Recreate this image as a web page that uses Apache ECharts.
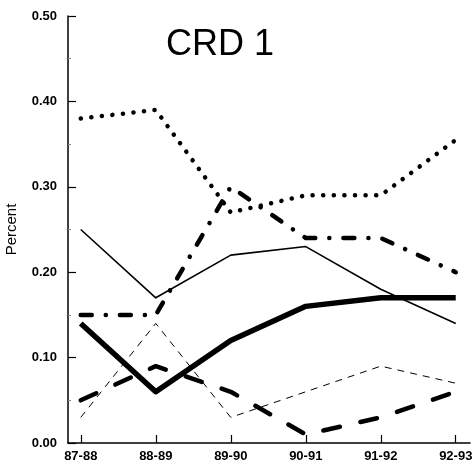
<!DOCTYPE html>
<html><head><meta charset="utf-8">
<script src="https://cdn.jsdelivr.net/npm/echarts@6/dist/echarts.min.js"></script>
<style>html,body{margin:0;padding:0;background:#fff}#c{width:473px;height:469px}</style>
</head><body><div id="c"></div>
<script>
const categories = ['87-88','88-89','89-90','90-91','91-92','92-93'];
const dotted      = [0.38, 0.39, 0.27, 0.29, 0.29, 0.355];
const thinSolid   = [0.25, 0.17, 0.22, 0.23, 0.18, 0.14];
const thickSolid  = [0.14, 0.06, 0.12, 0.16, 0.17, 0.17];
const dashDot     = [0.15, 0.15, 0.30, 0.24, 0.24, 0.20];
const thinDashed  = [0.03, 0.14, 0.03, 0.06, 0.09, 0.07];
const thickDashed = [0.05, 0.09, 0.06, 0.01, 0.03, 0.06];
const yTicks = [0, 0.1, 0.2, 0.3, 0.4, 0.5];

const pts = arr => arr.map((v, i) => [i, v]);
const idx = categories.map((c, i) => i);
const mk = (data, width, type, cap) => ({
  type: 'line', data: pts(data), symbol: 'none', silent: true,
  lineStyle: { color: '#000', width: width, type: type, cap: cap || 'butt', join: 'round' }
});

const chart = echarts.init(document.getElementById('c'), null, { renderer: 'canvas' });
chart.setOption({
  animation: false,
  backgroundColor: '#fff',
  title: {
    text: 'CRD 1', left: 215, top: 22, textAlign: 'center',
    textStyle: { fontFamily: 'Liberation Sans', fontSize: 36, fontWeight: 'normal', color: '#000' }
  },
  grid: { left: 68, right: 3, top: 16, bottom: 26, containLabel: false, outerBoundsMode: 'none' },
  xAxis: {
    type: 'value', min: -0.17, max: 5.19,
    splitLine: { show: false },
    axisLine: { onZero: false, lineStyle: { color: '#000', width: 1.5 } },
    axisTick: { inside: true, length: 8, customValues: idx, lineStyle: { color: '#000', width: 1.2 } },
    axisLabel: {
      customValues: idx, formatter: v => categories[Math.round(v)],
      fontFamily: 'Liberation Sans', fontWeight: 'bold', fontSize: 13, color: '#000', margin: 7
    }
  },
  yAxis: {
    type: 'value', min: 0, max: 0.5, interval: 0.1,
    name: 'Percent', nameLocation: 'middle', nameGap: 49, nameRotate: 90,
    nameTextStyle: { fontFamily: 'Liberation Sans', fontSize: 15, color: '#000' },
    splitLine: { show: false },
    axisLine: { show: true, onZero: false, lineStyle: { color: '#000', width: 1.5 } },
    axisTick: { show: true, inside: true, length: 8, lineStyle: { color: '#000', width: 1.2 } },
    minorTick: { show: true, splitNumber: 2, length: 3, lineStyle: { color: '#888' } },
    axisLabel: {
      formatter: v => v.toFixed(2),
      fontFamily: 'Liberation Sans', fontWeight: 'bold', fontSize: 13, color: '#000', margin: 11
    }
  },
  series: [
    mk(thinDashed, 1, [7, 6]),
    mk(thinSolid, 1.6, 'solid'),
    mk(dotted, 4.5, [0.1, 10.5], 'round'),
    mk(dashDot, 4.5, [11, 14, 0.1, 14], 'round'),
    mk(thickDashed, 4.5, [17, 21], 'round'),
    mk(thickSolid, 5.5, 'solid')
  ]
});
</script>
</body></html>
